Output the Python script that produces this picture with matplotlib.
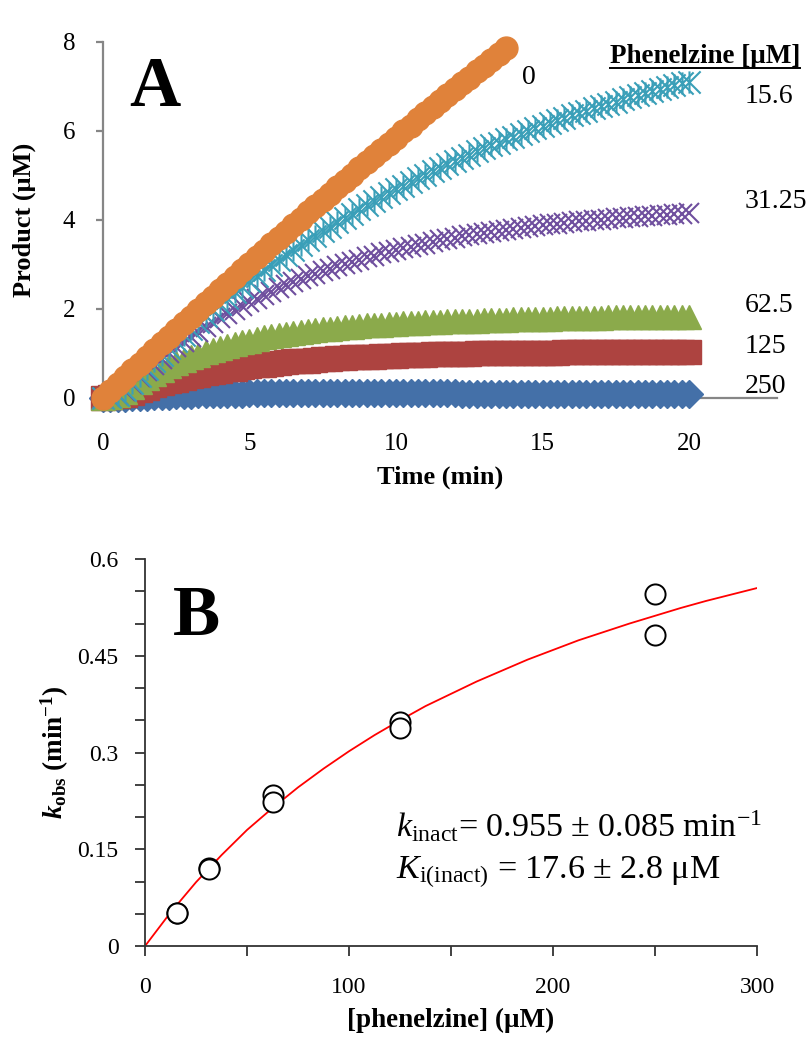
import matplotlib.pyplot as plt
import numpy as np
from matplotlib.path import Path
from matplotlib.lines import Line2D

plt.rcParams['font.family'] = 'Liberation Serif'
plt.rcParams['mathtext.fontset'] = 'custom'
plt.rcParams['mathtext.rm'] = 'Liberation Serif'
plt.rcParams['mathtext.it'] = 'Liberation Serif:italic'
plt.rcParams['mathtext.bf'] = 'Liberation Serif:bold'
plt.rcParams['mathtext.bfit'] = 'Liberation Serif:bold:italic'

# ---- panel A: progress curves (read every 0.25 min) ----
time = np.arange(0, 20.01, 0.25)

p_0 = [0.00, 0.15, 0.31, 0.46, 0.62, 0.77, 0.92, 1.07, 1.23, 1.38, 1.53, 1.68, 1.83, 1.98,
       2.13, 2.28, 2.42, 2.57, 2.72, 2.87, 3.01, 3.16, 3.30, 3.45, 3.59, 3.74, 3.88, 4.03,
       4.17, 4.31, 4.45, 4.59, 4.74, 4.88, 5.02, 5.16, 5.30, 5.44, 5.57, 5.71, 5.85, 5.99,
       6.12, 6.26, 6.40, 6.53, 6.67, 6.80, 6.94, 7.07, 7.20, 7.34, 7.47, 7.60, 7.73, 7.86]
p_15 = [0.00, 0.02, 0.06, 0.17, 0.34, 0.50, 0.66, 0.82, 0.97, 1.12,
        1.27, 1.42, 1.56, 1.70, 1.84, 1.98, 2.11, 2.24, 2.37, 2.50,
        2.62, 2.75, 2.87, 2.98, 3.10, 3.21, 3.32, 3.43, 3.54, 3.65,
        3.75, 3.85, 3.95, 4.05, 4.14, 4.24, 4.33, 4.42, 4.51, 4.60,
        4.69, 4.77, 4.85, 4.94, 5.02, 5.09, 5.17, 5.25, 5.32, 5.40,
        5.47, 5.54, 5.61, 5.68, 5.74, 5.81, 5.87, 5.94, 6.00, 6.06,
        6.12, 6.18, 6.24, 6.29, 6.35, 6.40, 6.46, 6.51, 6.56, 6.61,
        6.66, 6.71, 6.76, 6.80, 6.85, 6.90, 6.94, 6.99, 7.03, 7.07, 7.11]
p_31 = [0.00, 0.02, 0.06, 0.16, 0.32, 0.47, 0.61, 0.75, 0.88, 1.01,
        1.14, 1.26, 1.37, 1.48, 1.59, 1.69, 1.79, 1.88, 1.98, 2.07,
        2.15, 2.23, 2.31, 2.39, 2.46, 2.53, 2.60, 2.67, 2.73, 2.79,
        2.85, 2.90, 2.96, 3.01, 3.06, 3.11, 3.16, 3.20, 3.25, 3.29,
        3.33, 3.37, 3.40, 3.44, 3.47, 3.51, 3.54, 3.57, 3.60, 3.63,
        3.66, 3.68, 3.71, 3.73, 3.76, 3.78, 3.80, 3.82, 3.84, 3.86,
        3.88, 3.90, 3.92, 3.94, 3.95, 3.97, 3.98, 4.00, 4.01, 4.03,
        4.04, 4.05, 4.06, 4.07, 4.09, 4.10, 4.11, 4.12, 4.13, 4.14, 4.15]
p_62 = [0.00, 0.02, 0.06, 0.13, 0.24, 0.35, 0.45, 0.54, 0.63, 0.71,
        0.78, 0.85, 0.91, 0.97, 1.03, 1.08, 1.13, 1.17, 1.22, 1.26,
        1.29, 1.32, 1.36, 1.39, 1.41, 1.44, 1.46, 1.48, 1.50, 1.52,
        1.54, 1.56, 1.57, 1.59, 1.60, 1.62, 1.63, 1.64, 1.65, 1.66,
        1.67, 1.68, 1.69, 1.69, 1.70, 1.71, 1.71, 1.72, 1.73, 1.73,
        1.74, 1.74, 1.75, 1.75, 1.76, 1.76, 1.77, 1.77, 1.77, 1.78,
        1.78, 1.78, 1.79, 1.79, 1.79, 1.80, 1.80, 1.80, 1.80, 1.81,
        1.81, 1.81, 1.81, 1.82, 1.82, 1.82, 1.82, 1.82, 1.83, 1.83, 1.83]
p_125 = [0.00, 0.02, 0.04, 0.07, 0.12, 0.18, 0.23, 0.28, 0.33, 0.37,
         0.41, 0.45, 0.49, 0.52, 0.55, 0.58, 0.61, 0.64, 0.66, 0.69,
         0.71, 0.73, 0.75, 0.77, 0.78, 0.80, 0.82, 0.83, 0.84, 0.86,
         0.87, 0.88, 0.89, 0.90, 0.91, 0.92, 0.92, 0.93, 0.94, 0.95,
         0.95, 0.96, 0.96, 0.97, 0.97, 0.98, 0.98, 0.98, 0.99, 0.99,
         0.99, 1.00, 1.00, 1.00, 1.01, 1.01, 1.01, 1.01, 1.02, 1.02,
         1.02, 1.02, 1.02, 1.03, 1.03, 1.03, 1.03, 1.03, 1.03, 1.03,
         1.04, 1.04, 1.04, 1.04, 1.04, 1.04, 1.04, 1.04, 1.04, 1.04, 1.04]
p_250 = [0.00, 0.00, 0.01, 0.01, 0.02, 0.03, 0.03, 0.04, 0.05, 0.05,
         0.06, 0.07, 0.07, 0.08, 0.08, 0.09, 0.09, 0.10, 0.10, 0.10,
         0.11, 0.11, 0.11, 0.11, 0.11, 0.11, 0.11, 0.11, 0.11, 0.11,
         0.11, 0.11, 0.11, 0.11, 0.11, 0.11, 0.11, 0.11, 0.11, 0.11,
         0.11, 0.11, 0.11, 0.11, 0.11, 0.11, 0.11, 0.11, 0.11, 0.10,
         0.10, 0.10, 0.10, 0.10, 0.10, 0.10, 0.10, 0.10, 0.10, 0.10,
         0.10, 0.10, 0.10, 0.10, 0.10, 0.09, 0.09, 0.09, 0.09, 0.09,
         0.09, 0.09, 0.09, 0.09, 0.09, 0.09, 0.09, 0.08, 0.08, 0.08, 0.08]

conc_labels = ['0', '15.6', '31.25', '62.5', '125', '250']

# ---- panel B: kobs vs [phenelzine] ----
phen = [15.6, 15.6, 31.25, 31.25, 62.5, 62.5, 125, 125, 250, 250]
kobs = [0.052, 0.052, 0.121, 0.119, 0.234, 0.224, 0.348, 0.338, 0.545, 0.482]
# fitted curve every 12.5 uM
fit_x = [0, 12.5, 25, 37.5, 50, 62.5, 75, 87.5, 100, 112.5, 125, 137.5, 150, 162.5,
         175, 187.5, 200, 212.5, 225, 237.5, 250, 262.5, 275, 287.5, 300]
fit_y = [0.0, 0.052, 0.099, 0.141, 0.180, 0.214, 0.246, 0.275, 0.302, 0.327, 0.350, 0.372,
         0.391, 0.410, 0.427, 0.444, 0.459, 0.474, 0.487, 0.500, 0.512, 0.524, 0.535,
         0.545, 0.555]

fig = plt.figure(figsize=(8.12, 10.5), dpi=100)

# ================= panel A =================
axA = fig.add_axes([0.1268, 0.621, 0.830, 0.339])
grey = '#868686'

star = Path([(-1, -1), (1, 1), (-1, 1), (1, -1), (0, -1), (0, 1)],
            [Path.MOVETO, Path.LINETO, Path.MOVETO, Path.LINETO, Path.MOVETO, Path.LINETO])

axA.plot(time, p_250, ls='none', marker='D', ms=14, color='#4470A8', mec='#4470A8', clip_on=False, zorder=3)
axA.plot(time, p_125, ls='none', marker='s', ms=17.5, color='#AD4340', mec='#AD4340', clip_on=False, zorder=4)
axA.plot(time, p_62, ls='none', marker='^', ms=17, color='#8BAA4B', mec='#8BAA4B', clip_on=False, zorder=5)
axA.plot(time, p_31, ls='none', marker='x', ms=15, mec='#6F4F9E', mew=1.5, clip_on=False, zorder=6)
axA.plot(time, p_15, ls='none', marker=star, ms=16, mfc='none', mec='#3A9FB8', mew=1.5, clip_on=False, zorder=7)
axA.plot(time[:len(p_0)], p_0, ls='none', marker='o', ms=16.5, color='#E0823A', mec='#E0823A', clip_on=False, zorder=8)

axA.set_xlim(0, 23)
axA.set_ylim(0, 8)
axA.set_xticks([0, 5, 10, 15, 20])
axA.set_yticks([0, 2, 4, 6, 8])
for s in ['top', 'right']:
    axA.spines[s].set_visible(False)
for s in ['left', 'bottom']:
    axA.spines[s].set_color(grey)
    axA.spines[s].set_linewidth(1.6)
axA.tick_params(color=grey, labelcolor='black', labelsize=18, length=5, width=1.6, direction='out')
axA.tick_params(axis='x', pad=20)
axA.tick_params(axis='y', pad=15)

axA.set_xlabel('Time (min)', fontsize=19, fontweight='bold')
axA.xaxis.set_label_coords(0.5, -0.222)
axA.xaxis.label.set_va('center')
axA.set_ylabel('Product (\u03bcM)', fontsize=19, fontweight='bold')
axA.yaxis.set_label_coords(-0.116, 0.5)
axA.yaxis.label.set_va('center')

fig.text(129 / 812, 1 - 106 / 1050, 'A', fontsize=51, fontweight='bold', ha='left', va='baseline')

# concentration labels at the curve ends
lab_pos = [(14.3, 7.21), (21.9, 6.78), (21.9, 4.41), (21.9, 2.07), (21.9, 1.15), (21.9, 0.25)]
for lab, (lx, ly) in zip(conc_labels, lab_pos):
    axA.text(lx, ly, lab, fontsize=20, ha='left', va='center', clip_on=False)
head = axA.text(17.3, 7.68, 'Phenelzine [\u03bcM]', fontsize=19.5, fontweight='bold',
                ha='left', va='center', clip_on=False)

fig.canvas.draw()
bb = head.get_window_extent(fig.canvas.get_renderer()).transformed(fig.transFigure.inverted())
fig.add_artist(Line2D([bb.x0, bb.x1], [bb.y0 + 0.001, bb.y0 + 0.001], color='black', lw=1.4))

# ================= panel B =================
axB = fig.add_axes([0.1786, 0.099, 0.7537, 0.3686])
dark = '#333333'
axB.plot(fit_x, fit_y, color='red', lw=1.3, zorder=2)
axB.plot(phen, kobs, ls='none', marker='o', ms=14.5, mfc='white', mec='black', mew=1.4,
         clip_on=False, zorder=3)

axB.set_xlim(0, 300)
axB.set_ylim(0, 0.6)
xt = np.arange(0, 301, 50)
axB.set_xticks(xt)
axB.set_xticklabels(['0', '', '100', '', '200', '', '300'])
yt = np.arange(0, 0.6001, 0.05)
axB.set_yticks(yt)
axB.set_yticklabels(['0', '', '', '0.15', '', '', '0.3', '', '', '0.45', '', '', '0.6'])
for s in ['top', 'right']:
    axB.spines[s].set_visible(False)
for s in ['left', 'bottom']:
    axB.spines[s].set_color(dark)
    axB.spines[s].set_linewidth(1.3)
axB.tick_params(color=dark, labelcolor='black', labelsize=17, length=7, width=1.3, direction='out')
axB.tick_params(axis='x', pad=15)
axB.tick_params(axis='y', pad=12)

axB.set_xlabel('[phenelzine] (\u03bcM)', fontsize=19.5, fontweight='bold')
axB.xaxis.set_label_coords(0.5, -0.191)
axB.xaxis.label.set_va('center')
axB.set_ylabel(r'$\mathbfit{k}_{\mathbf{obs}}\ \mathbf{(min^{-1})}$', fontsize=19.5)
axB.yaxis.set_label_coords(-0.147, 0.5)
axB.yaxis.label.set_va('center')

fig.text(173 / 812, 1 - 635 / 1050, 'B', fontsize=51, fontweight='bold', ha='left', va='baseline')

axB.text(123, 0.169, r'$k_{\mathrm{inact}}$= 0.955 ' + '\u00b1' + r' 0.085 min$^{\mathrm{-1}}$',
         fontsize=24.5, ha='left', va='baseline')
axB.text(123, 0.105, r'$K_{\mathrm{i(inact)}}$ = 17.6 ' + '\u00b1' + ' 2.8 \u03bcM',
         fontsize=24.5, ha='left', va='baseline')

fig.savefig('out.png', dpi=100)
